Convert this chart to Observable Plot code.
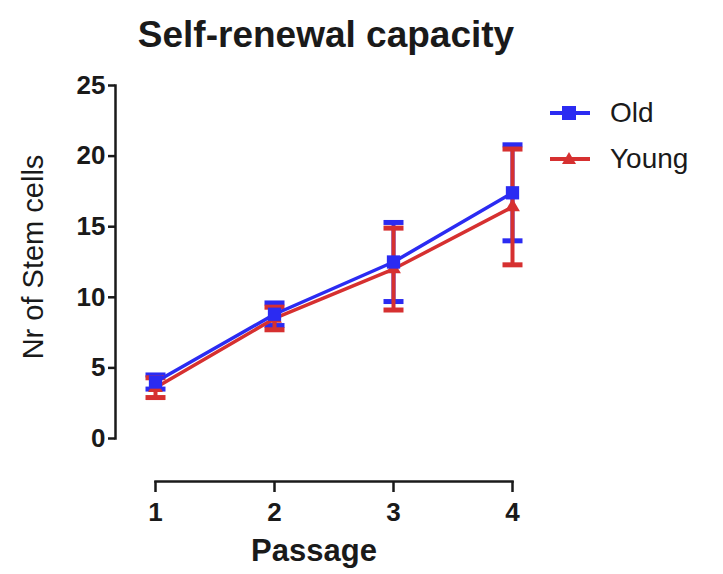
<!DOCTYPE html>
<html>
<head>
<meta charset="utf-8">
<script src="https://cdn.jsdelivr.net/npm/d3@7"></script>
<script src="https://cdn.jsdelivr.net/npm/@observablehq/plot@0.6"></script>
<style>
  html, body { margin: 0; padding: 0; background: #fff; }
  #wrap { position: relative; width: 723px; height: 574px; font-family: "Liberation Sans", Arial, sans-serif; color: #1a1a1a; }
  #title { position: absolute; left: 0; top: 13px; width: 652px; text-align: center; font-weight: bold; font-size: 37px; line-height: 44px; }
  #ylabel { position: absolute; left: 33px; top: 257px; transform: translate(-50%, -50%) rotate(-90deg); white-space: nowrap; font-size: 29px; }
  #chart { position: absolute; left: 0; top: 60px; }
  #legend { position: absolute; left: 548px; top: 90px; font-size: 28px; }
  .item { display: flex; align-items: center; height: 46px; }
  .item svg { margin-right: 18px; }
</style>
</head>
<body>
<div id="wrap">
  <div id="title">Self-renewal capacity</div>
  <div id="ylabel">Nr of Stem cells</div>
  <div id="chart"></div>
  <div id="legend"></div>
</div>
<script>
const passage = [1, 2, 3, 4];
const oldMean = [4.0, 8.8, 12.5, 17.4];
const oldSem = [0.5, 0.8, 2.8, 3.4];
const youngMean = [3.6, 8.5, 12.0, 16.4];
const youngSem = [0.7, 0.8, 2.9, 4.1];
const groups = ["Old", "Young"];
const colors = ["#2b2bf2", "#d63030"];
const yTicks = [0, 5, 10, 15, 20, 25];

const rows = [];
passage.forEach((p, i) => {
  rows.push({passage: p, group: "Old", mean: oldMean[i], sem: oldSem[i]});
  rows.push({passage: p, group: "Young", mean: youngMean[i], sem: youngSem[i]});
});
const oldRows = rows.filter(d => d.group === "Old");
const youngRows = rows.filter(d => d.group === "Young");

const cap = { draw(ctx) { ctx.rect(-10, -2.5, 20, 5); } };

function errorMarks(data, color) {
  return [
    Plot.ruleX(data, {x: "passage", y1: d => d.mean - d.sem, y2: d => d.mean + d.sem, stroke: color, strokeWidth: 4}),
    Plot.dot(data, {x: "passage", y: d => d.mean + d.sem, symbol: cap, fill: color, stroke: null}),
    Plot.dot(data, {x: "passage", y: d => d.mean - d.sem, symbol: cap, fill: color, stroke: null})
  ];
}

const chart = Plot.plot({
  width: 723,
  height: 514,
  marginTop: 25,
  marginBottom: 93,
  marginLeft: 115,
  marginRight: 211,
  style: {fontFamily: "'Liberation Sans', Arial, sans-serif", color: "#1a1a1a", background: "transparent"},
  x: {domain: [1, 4], insetLeft: 40, insetRight: 0},
  y: {domain: [0, 25], insetBottom: 43},
  marks: [
    Plot.frame({anchor: "left", insetBottom: 43, stroke: "#1a1a1a", strokeWidth: 2.5}),
    Plot.frame({anchor: "bottom", insetLeft: 40, stroke: "#1a1a1a", strokeWidth: 2.5}),
    Plot.axisY({ticks: yTicks, tickSize: 7, tickPadding: 3, tickFormat: d => d, label: null, fontSize: 26, fontWeight: "bold", strokeWidth: 2.5}),
    Plot.axisX({ticks: passage, tickSize: 11, tickPadding: 10, tickFormat: d => d, label: "Passage", labelAnchor: "center", labelArrow: "none", labelOffset: 79, fontSize: 26, fontWeight: "bold", strokeWidth: 2.5}),
    ...errorMarks(oldRows, colors[0]),
    ...errorMarks(youngRows, colors[1]),
    Plot.line(youngRows, {x: "passage", y: "mean", stroke: colors[1], strokeWidth: 3.5}),
    Plot.line(oldRows, {x: "passage", y: "mean", stroke: colors[0], strokeWidth: 3.5}),
    Plot.dot(youngRows, {x: "passage", y: "mean", symbol: "triangle", r: 5.5, fill: colors[1], stroke: null}),
    Plot.dot(oldRows, {x: "passage", y: "mean", symbol: "square", r: 7.5, fill: colors[0], stroke: null})
  ]
});
chart.querySelectorAll("g[aria-label='x-axis label'] text").forEach(t => { t.setAttribute("font-size", 31); });
document.getElementById("chart").appendChild(chart);

const legend = document.getElementById("legend");
groups.forEach((g, i) => {
  const item = document.createElement("div");
  item.className = "item";
  const sym = i === 0
    ? `<rect x="14" y="7" width="14" height="14" fill="${colors[i]}"/>`
    : `<path d="M21,7 L28,19 L14,19 Z" fill="${colors[i]}"/>`;
  item.innerHTML = `<svg width="44" height="28"><line x1="2" x2="42" y1="14" y2="14" stroke="${colors[i]}" stroke-width="4"/>${sym}</svg><span>${g}</span>`;
  legend.appendChild(item);
});
</script>
</body>
</html>
